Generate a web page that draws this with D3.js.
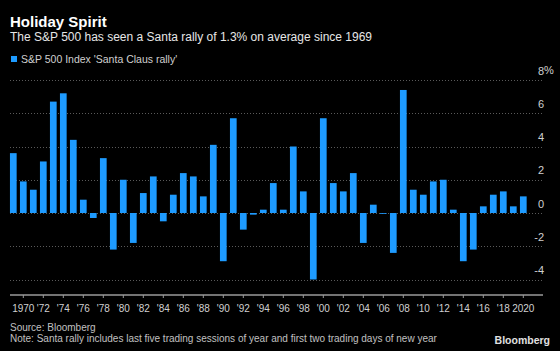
<!DOCTYPE html>
<html>
<head>
<meta charset="utf-8">
<script src="https://cdn.jsdelivr.net/npm/d3@7"></script>
<style>
  body { margin: 0; background: #000; }
  svg { display: block; font-family: "Liberation Sans", Arial, sans-serif; }
  .grid line { stroke: #5a5a5a; stroke-dasharray: 1,2; }
</style>
</head>
<body>
<svg id="chart" width="560" height="351"></svg>
<script>
// S&P 500 'Santa Claus rally' by year, percent
var years = d3.range(1969, 2021);
var rally = [
  3.6, 1.9, 1.4, 3.1, 6.7, 7.2, 4.4, 0.8, -0.3, 3.3,
  -2.2, 2.0, -1.8, 1.2, 2.2, -0.5, 1.1, 2.4, 2.2, 1.0,
  4.1, -2.9, 5.7, -1.0, -0.1, 0.2, 1.8, 0.2, 4.0, 1.3,
  -4.0, 5.7, 1.8, 1.3, 2.4, -1.8, 0.5, -0.05, -2.4, 7.4,
  1.4, 1.1, 1.9, 2.0, 0.2, -2.9, -2.2, 0.4, 1.1, 1.3,
  0.4, 1.0
];
var yTicks = [-4, -2, 0, 2, 4, 6, 8];
var xTicks = d3.range(1970, 2021, 2);

var data = years.map(function(y, i) { return { year: y, value: rally[i] }; });

var svg = d3.select("#chart");
svg.append("rect").attr("width", 560).attr("height", 351).attr("fill", "#000");

var x = d3.scaleBand()
  .domain(years)
  .range([8.3, 528.3])
  .paddingInner(0.33)
  .paddingOuter(0.165);

var y = d3.scaleLinear()
  .domain([-4, 8])
  .range([279.5, 80]);

// header
svg.append("text")
  .attr("x", 10).attr("y", 27)
  .attr("fill", "#fff")
  .attr("font-size", 15).attr("font-weight", "bold")
  .text("Holiday Spirit");

svg.append("text")
  .attr("x", 10).attr("y", 41)
  .attr("fill", "#e6e6e6")
  .attr("font-size", 12)
  .text("The S&P 500 has seen a Santa rally of 1.3% on average since 1969");

svg.append("rect")
  .attr("x", 11).attr("y", 56).attr("width", 6).attr("height", 6)
  .attr("fill", "#1e9bff");
svg.append("text")
  .attr("x", 21).attr("y", 62.5)
  .attr("fill", "#d0d0d0")
  .attr("font-size", 10.5)
  .text("S&P 500 Index 'Santa Claus rally'");

// gridlines
svg.append("g")
  .attr("class", "grid")
  .selectAll("line")
  .data(yTicks)
  .enter().append("line")
  .attr("x1", 10).attr("x2", 543)
  .attr("y1", function(d) { return Math.round(y(d)) + 0.5; })
  .attr("y2", function(d) { return Math.round(y(d)) + 0.5; });

// y labels, sitting just above their gridline
var yAxis = svg.append("g")
  .attr("transform", "translate(544,0)")
  .call(d3.axisLeft(y).tickValues(yTicks).tickSize(0).tickPadding(0)
    .tickFormat(function(d) { return d; }));
yAxis.select(".domain").remove();
yAxis.selectAll("text")
  .attr("fill", "#d0d0d0")
  .attr("font-size", 11)
  .attr("font-family", "Liberation Sans, Arial, sans-serif")
  .attr("dy", null)
  .attr("y", -6);
svg.append("text")
  .attr("x", 544).attr("y", y(8) - 6)
  .attr("fill", "#d0d0d0")
  .attr("font-size", 11)
  .text("%");

// bars
svg.append("g")
  .selectAll("rect")
  .data(data)
  .enter().append("rect")
  .attr("x", function(d) { return x(d.year); })
  .attr("width", x.bandwidth())
  .attr("y", function(d) { return y(Math.max(0, d.value)); })
  .attr("height", function(d) { return Math.max(0.6, Math.abs(y(d.value) - y(0))); })
  .attr("fill", "#1e9bff");

// x axis
svg.append("line")
  .attr("x1", 10).attr("x2", 543)
  .attr("y1", 295).attr("y2", 295)
  .attr("stroke", "#9a9a9a").attr("stroke-width", 1.5);

var xAxis = svg.append("g")
  .attr("transform", "translate(0,295)")
  .call(d3.axisBottom(x).tickValues(xTicks).tickSize(3).tickPadding(7)
    .tickFormat(function(d) {
      if (d === 1970 || d === 2020) return String(d);
      return "'" + String(d).slice(2);
    }));
xAxis.select(".domain").remove();
xAxis.selectAll("line").attr("stroke", "#9a9a9a");
xAxis.selectAll("text")
  .attr("fill", "#d0d0d0")
  .attr("font-size", 10)
  .attr("font-family", "Liberation Sans, Arial, sans-serif");

// footer
svg.append("text")
  .attr("x", 10).attr("y", 331)
  .attr("fill", "#c0c0c0")
  .attr("font-size", 10)
  .text("Source: Bloomberg");
svg.append("text")
  .attr("x", 10).attr("y", 342)
  .attr("fill", "#c0c0c0")
  .attr("font-size", 10)
  .text("Note: Santa rally includes last five trading sessions of year and first two trading days of new year");
svg.append("text")
  .attr("x", 550).attr("y", 344)
  .attr("text-anchor", "end")
  .attr("fill", "#e0e0e0")
  .attr("font-size", 10.5).attr("font-weight", "bold")
  .text("Bloomberg");
</script>
</body>
</html>
